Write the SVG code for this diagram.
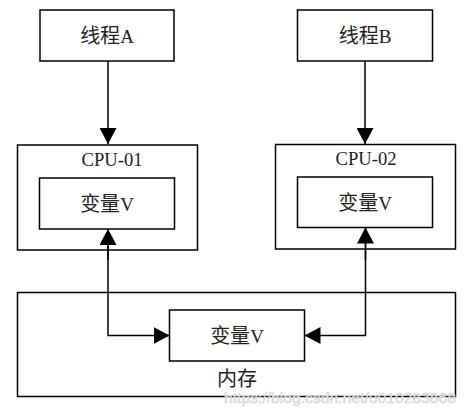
<svg xmlns="http://www.w3.org/2000/svg" width="470" height="412" viewBox="0 0 470 412">
<style>
.box{fill:#fff;stroke:#000;stroke-width:1.5}
.t{font-family:"Noto Sans CJK SC","Noto Sans CJK JP",sans-serif;font-size:20px;fill:#222;text-anchor:middle}
.l{font-family:"Liberation Serif",serif;font-size:19px}
.c{fill:none;stroke:#000;stroke-width:1.5}
.wm{font-family:"Liberation Sans",sans-serif;font-size:14px;fill:#e6e6e6;stroke:#d0d0d0;stroke-width:0.4}
</style>
<defs>
<marker id="ah" markerUnits="userSpaceOnUse" markerWidth="17" markerHeight="17" viewBox="0 0 17 17" refX="16" refY="8.5" orient="auto">
<path d="M0,0 L16,8.5 L0,17 Z" fill="#000"/>
</marker>
</defs>
<g id="threadA"><rect class="box" x="40" y="10" width="134" height="51"/><text class="t" x="107" y="43">线程<tspan class="l">A</tspan></text></g>
<g id="threadB"><rect class="box" x="297.5" y="10" width="135" height="51"/><text class="t" x="365" y="43">线程<tspan class="l">B</tspan></text></g>
<g id="cpu01"><rect class="box" x="17.5" y="145" width="180" height="105"/><text class="t l" x="112" y="166" textLength="61" lengthAdjust="spacingAndGlyphs">CPU-01</text></g>
<g id="var1"><rect class="box" x="39.5" y="178" width="135" height="51"/><text class="t" x="107" y="211">变量<tspan class="l">V</tspan></text></g>
<g id="cpu02"><rect class="box" x="275.5" y="144.5" width="180" height="104.5"/><text class="t l" x="366" y="165" textLength="61" lengthAdjust="spacingAndGlyphs">CPU-02</text></g>
<g id="var2"><rect class="box" x="297.5" y="177" width="135" height="50.5"/><text class="t" x="365" y="210">变量<tspan class="l">V</tspan></text></g>
<g id="memory"><rect class="box" x="17.5" y="292.5" width="438" height="104"/><text class="t" x="237" y="386">内存</text></g>
<g id="varMem"><rect class="box" x="169.5" y="310" width="135" height="51"/><text class="t" x="237" y="343">变量<tspan class="l">V</tspan></text></g>
<g id="connectors">
<line class="c" x1="108" y1="61" x2="108" y2="144" marker-end="url(#ah)"/>
<line class="c" x1="365" y1="61" x2="365" y2="144" marker-end="url(#ah)"/>
<path class="c" d="M108,229 L108,335.5 L169.5,335.5" marker-end="url(#ah)"/>
<line class="c" x1="108" y1="260" x2="108" y2="229" marker-end="url(#ah)"/>
<path class="c" d="M365.5,227.5 L365.5,335.5 L304.5,335.5" marker-end="url(#ah)"/>
<line class="c" x1="365.5" y1="260" x2="365.5" y2="227.5" marker-end="url(#ah)"/>
</g>
<text class="wm" x="224" y="403" textLength="232" lengthAdjust="spacingAndGlyphs">https://blog.csdn.net/u010283868</text>
</svg>
